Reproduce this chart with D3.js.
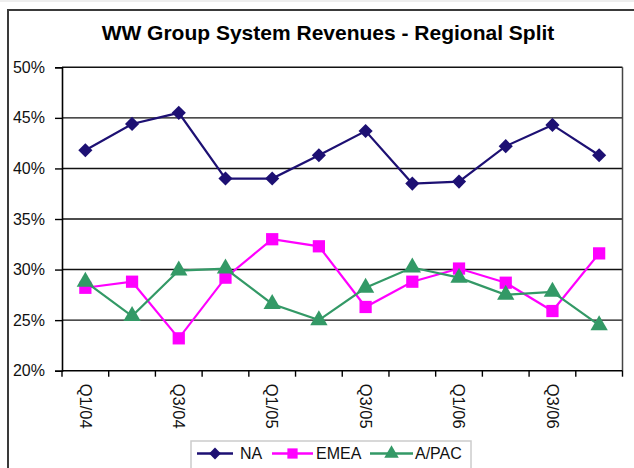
<!DOCTYPE html>
<html>
<head>
<meta charset="utf-8">
<script src="https://cdn.jsdelivr.net/npm/d3@7"></script>
<style>
  body { margin: 0; background: #fff; }
  text { font-family: "Liberation Sans", Arial, sans-serif; }
</style>
</head>
<body>
<div id="chart"></div>
<script>
// Data
var quarters = ["Q1/04", "Q2/04", "Q3/04", "Q4/04", "Q1/05", "Q2/05",
  "Q3/05", "Q4/05", "Q1/06", "Q2/06", "Q3/06", "Q4/06"];
var naValues = [41.8, 44.4, 45.5, 39.0, 39.0, 41.3, 43.7, 38.5, 38.7, 42.2, 44.3, 41.3];
var emeaValues = [28.2, 28.8, 23.2, 29.2, 33.0, 32.3, 26.3, 28.8, 30.1, 28.7, 25.9, 31.6];
var apacValues = [28.8, 25.4, 29.9, 30.1, 26.6, 25.0, 28.2, 30.2, 29.2, 27.5, 27.8, 24.5];
var yTicks = [20, 25, 30, 35, 40, 45, 50];

// NA diamond = square turned 45 degrees
var series = [
  { name: "NA", values: naValues, color: "#1d1073", symbol: d3.symbolSquare, size: 100, rot: 45 },
  { name: "EMEA", values: emeaValues, color: "#ff00ff", symbol: d3.symbolSquare, size: 150, rot: 0 },
  { name: "A/PAC", values: apacValues, color: "#339966", symbol: d3.symbolTriangle, size: 130, rot: 0 }
];

var W = 634, H = 468;
var plot = { left: 62, right: 622.5, top: 67.3, bottom: 370.7 };

var svg = d3
  .select("#chart")
  .append("svg")
  .attr("width", W)
  .attr("height", H);

// outer frame
svg.append("line")
  .attr("x1", 0).attr("x2", W).attr("y1", 1).attr("y2", 1)
  .attr("stroke", "#ddd").attr("stroke-width", 1);
svg.append("path")
  .attr("d", "M8," + H + "V10H" + W)
  .attr("fill", "none")
  .attr("stroke", "#3a3a3a")
  .attr("stroke-width", 2);

// title
svg.append("text")
  .attr("x", 328)
  .attr("y", 40)
  .attr("text-anchor", "middle")
  .style("font-size", "21px")
  .style("font-weight", "bold")
  .attr("fill", "#000")
  .text("WW Group System Revenues - Regional Split");

var x = d3.scaleBand().domain(quarters).range([plot.left, plot.right]);
var y = d3.scaleLinear().domain([20, 50]).range([plot.bottom, plot.top]);

// gridlines
svg.append("g")
  .selectAll("line")
  .data(yTicks.slice(1))
  .enter()
  .append("line")
  .attr("x1", plot.left)
  .attr("x2", plot.right)
  .attr("y1", function (d) { return y(d); })
  .attr("y2", function (d) { return y(d); })
  .attr("stroke", "#111")
  .attr("stroke-width", 1.4);

// right plot border
svg.append("line")
  .attr("x1", plot.right).attr("x2", plot.right)
  .attr("y1", plot.top).attr("y2", plot.bottom)
  .attr("stroke", "#444").attr("stroke-width", 1.5);

// y axis
var yAxis = svg.append("g")
  .attr("transform", "translate(" + plot.left + ",0)")
  .call(d3.axisLeft(y).tickValues(yTicks).tickSize(7).tickPadding(10)
    .tickFormat(function (d) { return d + "%"; }));
yAxis.select(".domain").attr("stroke", "#000").attr("stroke-width", 1.6);
yAxis.selectAll(".tick line").attr("stroke", "#000").attr("stroke-width", 1.4);
yAxis.selectAll(".tick text")
  .style("font-size", "16px")
  .style("font-family", "'Liberation Sans', Arial, sans-serif")
  .attr("fill", "#111");

// x axis: ticks at category boundaries
var xAxisG = svg.append("g");
xAxisG.append("line")
  .attr("x1", plot.left).attr("x2", plot.right)
  .attr("y1", plot.bottom).attr("y2", plot.bottom)
  .attr("stroke", "#000").attr("stroke-width", 1.6);
var bounds = quarters.map(function (q) { return x(q); }).concat([x.range()[1]]);
xAxisG.selectAll(".xtick")
  .data(bounds)
  .enter()
  .append("line")
  .attr("class", "xtick")
  .attr("x1", function (d) { return d; })
  .attr("x2", function (d) { return d; })
  .attr("y1", plot.bottom)
  .attr("y2", plot.bottom + 6)
  .attr("stroke", "#000")
  .attr("stroke-width", 1.4);

xAxisG.selectAll(".xlabel")
  .data(quarters.filter(function (d, i) { return i % 2 === 0; }))
  .enter()
  .append("text")
  .attr("class", "xlabel")
  .attr("transform", function (d) {
    return "translate(" + (x(d) + x.bandwidth() / 2) + "," + (plot.bottom + 13) + ") rotate(90)";
  })
  .attr("dy", "0.35em")
  .attr("text-anchor", "start")
  .style("font-size", "16.5px")
  .attr("fill", "#111")
  .text(function (d) { return d; });

// lines and markers
var line = d3.line()
  .x(function (d, i) { return x(quarters[i]) + x.bandwidth() / 2; })
  .y(function (d) { return y(d); });

series.forEach(function (s) {
  svg.append("path")
    .datum(s.values)
    .attr("fill", "none")
    .attr("stroke", s.color)
    .attr("stroke-width", 2.2)
    .attr("d", line);

  svg.append("g")
    .selectAll("path")
    .data(s.values)
    .enter()
    .append("path")
    .attr("transform", function (d, i) {
      return "translate(" + (x(quarters[i]) + x.bandwidth() / 2) + "," + y(d) + ") rotate(" + s.rot + ")";
    })
    .attr("d", d3.symbol().type(s.symbol).size(s.size))
    .attr("fill", s.color);
});

// legend
var legend = svg.append("g");
legend.append("rect")
  .attr("x", 191).attr("y", 441)
  .attr("width", 280).attr("height", 40)
  .attr("fill", "#fff")
  .attr("stroke", "#ccc")
  .attr("stroke-width", 1.5);

var legendPos = [
  { x1: 197, x2: 233, tx: 240 },
  { x1: 272, x2: 313, tx: 316 },
  { x1: 370, x2: 413, tx: 415 }
];
var ly = 453.5;
series.forEach(function (s, i) {
  var p = legendPos[i];
  legend.append("line")
    .attr("x1", p.x1).attr("x2", p.x2)
    .attr("y1", ly).attr("y2", ly)
    .attr("stroke", s.color).attr("stroke-width", 2.5);
  legend.append("path")
    .attr("transform", "translate(" + ((p.x1 + p.x2) / 2) + "," + ly + ") rotate(" + s.rot + ")")
    .attr("d", d3.symbol().type(s.symbol).size(s.size * 0.7))
    .attr("fill", s.color);
  legend.append("text")
    .attr("x", p.tx)
    .attr("y", ly)
    .attr("dy", "0.35em")
    .style("font-size", "16px")
    .attr("fill", "#111")
    .text(s.name);
});
</script>
</body>
</html>
